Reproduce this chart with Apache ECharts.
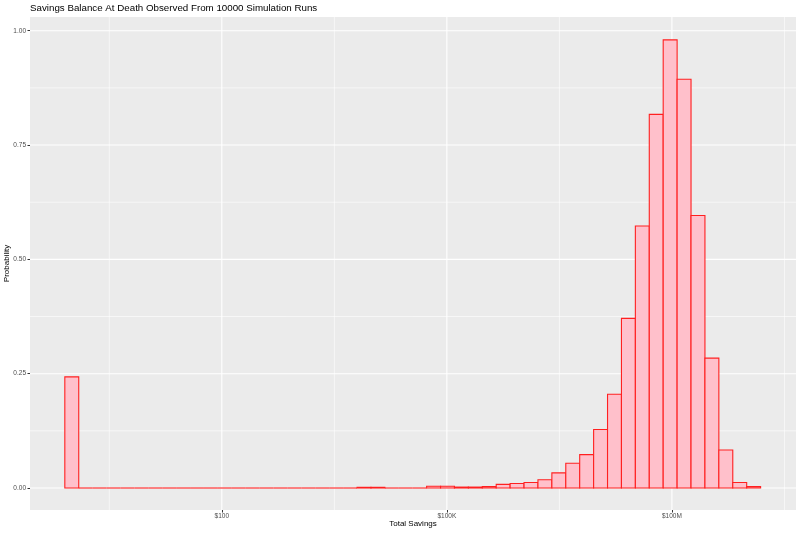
<!DOCTYPE html>
<html>
<head>
<meta charset="utf-8">
<script src="https://cdn.jsdelivr.net/npm/echarts@6/dist/echarts.min.js"></script>
<style>html,body{margin:0;padding:0;background:#fff}#c{width:800px;height:533px}</style>
</head>
<body>
<div id="c"></div>
<script>
// Histogram of log10(total savings); 50 equal-width bins in log10 space
const binStartLog10 = -0.0928;   // left edge of first bin (log10 $)
const binWidthLog10 = 0.1855;    // bin width (log10 $)
const probabilities = [
  0.243, 0, 0, 0, 0, 0, 0, 0, 0, 0,
  0, 0, 0, 0, 0, 0, 0, 0, 0, 0,
  0, 0.0015, 0.0015, 0, 0, 0, 0.004, 0.004, 0.002, 0.002,
  0.003, 0.008, 0.010, 0.012, 0.018, 0.033, 0.054, 0.073, 0.128, 0.205,
  0.371, 0.573, 0.817, 0.980, 0.894, 0.596, 0.284, 0.083, 0.012, 0.003
];
const xTickValues = [2, 5, 8];
const xTickLabels = ['$100', '$100K', '$100M'];
const xMinorGrid = [0.5, 3.5, 6.5, 9.5];
const yTickValues = [0, 0.25, 0.5, 0.75, 1.0];
const yMinorGrid = [0.125, 0.375, 0.625, 0.875];
const xRange = [-0.557, 9.654];
const yRange = [-0.0481, 1.030];

const bins = probabilities.map((p, i) => [binStartLog10 + i * binWidthLog10, binStartLog10 + (i + 1) * binWidthLog10, p]);

function gridSeries(values, orient, width) {
  return {
    type: 'custom', silent: true, z: 1, animation: false,
    data: values.map(v => [v]),
    renderItem: function (params, api) {
      const v = api.value(0);
      const cs = params.coordSys;
      if (orient === 'x') {
        const p = api.coord([v, 0]);
        return {type: 'line', shape: {x1: p[0], y1: cs.y, x2: p[0], y2: cs.y + cs.height}, style: {stroke: '#ffffff', lineWidth: width}};
      }
      const p = api.coord([0, v]);
      return {type: 'line', shape: {x1: cs.x, y1: p[1], x2: cs.x + cs.width, y2: p[1]}, style: {stroke: '#ffffff', lineWidth: width}};
    }
  };
}

const FONT = 'Liberation Sans, Arial, sans-serif';
const chart = echarts.init(document.getElementById('c'), null, {renderer: 'canvas'});
chart.setOption({
  animation: false,
  backgroundColor: '#ffffff',
  title: {
    text: 'Savings Balance At Death Observed From 10000 Simulation Runs',
    left: 30, top: 3, padding: 0,
    textStyle: {fontFamily: FONT, fontSize: 9.75, fontWeight: 'normal', color: '#000000'}
  },
  grid: {left: 30, right: 4, top: 17, bottom: 23, show: true, backgroundColor: '#EBEBEB', borderWidth: 0,
         containLabel: false, outerBoundsMode: 'none'},
  xAxis: {
    type: 'value', min: xRange[0], max: xRange[1],
    name: 'Total Savings', nameLocation: 'middle', nameGap: 10, nameMoveOverlap: false,
    nameTextStyle: {fontFamily: FONT, fontSize: 8, color: '#000000'},
    axisLine: {show: false, onZero: false},
    axisTick: {show: true, length: 2.5, customValues: xTickValues, lineStyle: {color: '#333333', width: 1}},
    axisLabel: {
      customValues: xTickValues, margin: 3,
      fontFamily: FONT, fontSize: 6.5, color: '#4D4D4D',
      formatter: v => xTickLabels[xTickValues.indexOf(v)] || ''
    },
    splitLine: {show: false}
  },
  yAxis: {
    type: 'value', min: yRange[0], max: yRange[1],
    name: 'Probability', nameLocation: 'middle', nameGap: 19, nameRotate: 90, nameMoveOverlap: false,
    nameTextStyle: {fontFamily: FONT, fontSize: 8, color: '#000000'},
    axisLine: {show: false, onZero: false},
    axisTick: {show: true, length: 2.5, customValues: yTickValues, lineStyle: {color: '#333333', width: 1}},
    axisLabel: {
      customValues: yTickValues, margin: 4,
      fontFamily: FONT, fontSize: 6.5, color: '#4D4D4D',
      formatter: v => v.toFixed(2)
    },
    splitLine: {show: false}
  },
  series: [
    gridSeries(xMinorGrid, 'x', 0.6),
    gridSeries(yMinorGrid, 'y', 0.6),
    gridSeries(xTickValues, 'x', 1.1),
    gridSeries(yTickValues, 'y', 1.1),
    {
      type: 'custom', z: 3, animation: false,
      data: bins,
      renderItem: function (params, api) {
        const p0 = api.coord([api.value(0), 0]);
        const p1 = api.coord([api.value(1), api.value(2)]);
        const h = p0[1] - p1[1];
        if (h < 0.01) {
          return {type: 'line', shape: {x1: p0[0], y1: p0[1], x2: p1[0], y2: p0[1]}, style: {stroke: '#FF2020', lineWidth: 1.1}};
        }
        return {
          type: 'rect',
          shape: {x: p0[0], y: p1[1], width: p1[0] - p0[0], height: h},
          style: {fill: '#FFC0CB', stroke: '#FF2020', lineWidth: 1.1}
        };
      }
    }
  ]
});
</script>
</body>
</html>
